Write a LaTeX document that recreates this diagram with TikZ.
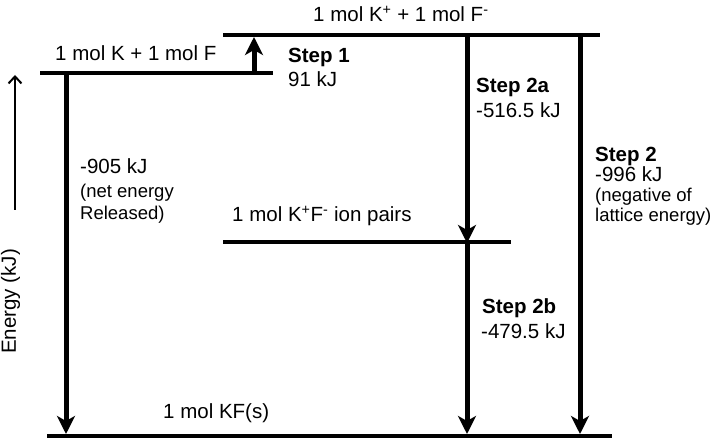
\documentclass[tikz,border=0pt]{standalone}
\usepackage{fontspec}
\setmainfont{Liberation Sans}
\usetikzlibrary{arrows.meta}
\begin{document}
\begin{tikzpicture}[x=1pt,y=-1pt,
  level/.style={line width=4.5pt},
  steparrow/.style={line width=5pt,-{Stealth[length=18pt,width=18pt,inset=5pt]}},
  axisarrow/.style={line width=2pt,-{Straight Barb[length=7pt,width=13pt,line width=2pt]}},
  lbl/.style={anchor=base west,inner sep=0pt,font=\fontsize{20.5}{24}\selectfont},
  slbl/.style={lbl,font=\fontsize{18.5}{22}\selectfont},
  blbl/.style={lbl,font=\fontsize{20.5}{24}\selectfont\bfseries}]
\useasboundingbox[fill=white] (0,0) rectangle (720,446);
% levels
\coordinate (topL) at (223,35);  \coordinate (topR) at (600,35);
\coordinate (kfL) at (40,73);    \coordinate (kfR) at (273,73);
\coordinate (ipL) at (223,242);  \coordinate (ipR) at (511,242);
\coordinate (botL) at (47,436);  \coordinate (botR) at (612,436);
\draw[level] (topL) -- (topR);
\draw[level] (kfL) -- (kfR);
\draw[level] (ipL) -- (ipR);
\draw[level] (botL) -- (botR);
% arrows
\coordinate (s1a) at (254,73);  \coordinate (s1b) at (254,37);
\coordinate (nA) at (66,73);    \coordinate (nB) at (66,434);
\coordinate (s2aA) at (467,35); \coordinate (s2aB) at (467,243);
\coordinate (s2bA) at (467,242);\coordinate (s2bB) at (467,434);
\coordinate (s2A) at (580,35);  \coordinate (s2B) at (580,434);
\draw[steparrow] (s1a) -- (s1b);
\draw[steparrow] (nA) -- (nB);
\draw[steparrow] (s2aA) -- (s2aB);
\draw[steparrow] (s2bA) -- (s2bB);
\draw[steparrow] (s2A) -- (s2B);
% energy axis
\coordinate (eA) at (15,210); \coordinate (eB) at (15,75);
\draw[axisarrow] (eA) -- (eB);
\node[lbl,rotate=90] (elbl) at (16,354) {Energy (kJ)};
% labels
\node[lbl] (ttop) at (313,22) {1 mol K\textsuperscript{+} + 1 mol F\textsuperscript{-}};
\node[lbl] (tkf) at (55,61) {1 mol K + 1 mol F};
\node[blbl] (st1) at (288,63) {Step 1};
\node[lbl] (st1v) at (288,87) {91 kJ};
\node[blbl] (st2a) at (476,93) {Step 2a};
\node[lbl] (st2av) at (476,118) {-516.5 kJ};
\node[lbl] (net1) at (80,174) {-905 kJ};
\node[slbl] (net2) at (80,198) {(net energy};
\node[slbl] (net3) at (80,220) {Released)};
\node[lbl] (tip) at (232,222) {1 mol K\textsuperscript{+}F\textsuperscript{-} ion pairs};
\node[blbl] (st2) at (595,162) {Step 2};
\node[lbl] (st2v) at (595,182) {-996 kJ};
\node[slbl] (st2n1) at (595,202) {(negative of};
\node[slbl] (st2n2) at (595,222) {lattice energy)};
\node[blbl] (st2b) at (482,313) {Step 2b};
\node[lbl] (st2bv) at (481,338) {-479.5 kJ};
\node[lbl] (tkfs) at (163,418) {1 mol KF(s)};
\end{tikzpicture}
\end{document}
